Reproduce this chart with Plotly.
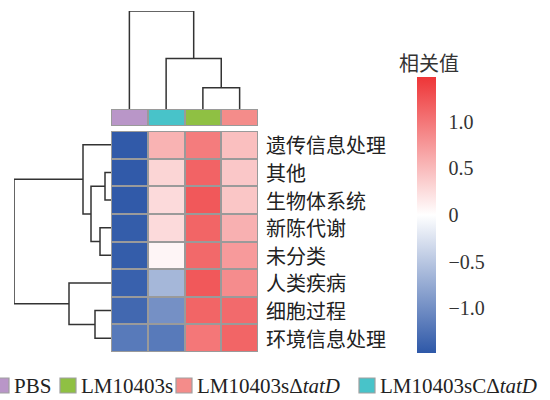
import plotly.graph_objects as go

# ---------------- data ----------------
rows = ["遗传信息处理", "其他", "生物体系统", "新陈代谢", "未分类", "人类疾病", "细胞过程", "环境信息处理"]
cols = ["PBS", "LM10403sCΔtatD", "LM10403s", "LM10403sΔtatD"]
col_colors = ["#B996C8", "#48C3C9", "#8FC043", "#F48C8A"]

pbs     = [-1.46, -1.46, -1.46, -1.44, -1.44, -1.40, -1.34, -1.18]
lm_c    = [0.56, 0.31, 0.27, 0.27, 0.07, -0.64, -0.98, -1.18]
lm      = [0.96, 1.14, 1.22, 1.13, 1.10, 1.22, 1.13, 1.00]
lm_del  = [0.47, 0.41, 0.42, 0.58, 0.74, 0.84, 1.09, 1.13]

# dendrograms (scipy-like linkage: child a, child b, height)
top_link = [[2, 3, 21], [1, 4, 50], [0, 5, 97]]
left_link = [[1, 2, 6], [3, 4, 11], [6, 7, 16], [8, 9, 20], [0, 11, 28], [5, 10, 42], [12, 13, 97]]

legend_labels = ["PBS", "LM10403s", "LM10403sΔ<i>tatD</i>", "LM10403sCΔ<i>tatD</i>"]
legend_colors = ["#B996C8", "#8FC043", "#F48C8A", "#48C3C9"]
legend_x = [-7, 60, 176, 359]  # pixel left edge of squares

cb_ticks = [-1.0, -0.5, 0, 0.5, 1.0]
cb_text = ["−1.0", "−0.5", "0", "0.5", "1.0"]

# ---------------- layout helpers ----------------
W, H = 550, 400
def px(x): return x / W
def py(y): return 1 - y / H

hx0, hx1 = 111, 258
hy0, hy1 = 131, 352

z = [[pbs[i], lm_c[i], lm[i], lm_del[i]] for i in range(len(rows))]

def dendro_segments(link, n):
    pos = {i: float(i) for i in range(n)}
    hgt = {i: 0.0 for i in range(n)}
    xs, ys = [], []
    for k, (a, b, h) in enumerate(link):
        xa, xb = pos[a], pos[b]
        xs += [xa, xa, xb, xb, None]
        ys += [hgt[a], h, h, hgt[b], None]
        pos[n + k] = (xa + xb) / 2
        hgt[n + k] = h
    return xs, ys

fig = go.Figure()

colorscale = [[0, "#2E58A8"], [0.5, "#FFFFFF"], [1, "#EE3537"]]
fig.add_trace(go.Heatmap(
    z=z, x=list(range(4)), y=list(range(len(rows))),
    zmin=-1.48, zmax=1.48, colorscale=colorscale, xgap=2, ygap=2,
    xaxis="x", yaxis="y", hoverinfo="skip",
    colorbar=dict(
        x=px(417), xanchor="left", xpad=0, ypad=0,
        y=py(215), yanchor="middle", len=276 / H, lenmode="fraction",
        thickness=19, outlinewidth=0,
        tickvals=cb_ticks, ticktext=cb_text, ticks="outside", ticklen=9,
        tickcolor="rgba(0,0,0,0)",
        tickfont=dict(family="Liberation Serif", size=20, color="#333"),
    ),
))

# annotation bar
n_cols = len(cols)
disc = []
for i, c in enumerate(col_colors):
    disc += [[i / n_cols, c], [(i + 1) / n_cols, c]]
fig.add_trace(go.Heatmap(
    z=[list(range(n_cols))], x=list(range(n_cols)), y=[0],
    zmin=-0.5, zmax=n_cols - 0.5, colorscale=disc, showscale=False,
    xgap=2, ygap=2, xaxis="x2", yaxis="y2", hoverinfo="skip",
))

# top dendrogram
tx, ty = dendro_segments(top_link, n_cols)
fig.add_trace(go.Scatter(x=tx, y=ty, mode="lines", line=dict(color="#333", width=1.5),
                         xaxis="x3", yaxis="y3", cliponaxis=False, hoverinfo="skip", showlegend=False))

# left dendrogram
ly, lx = dendro_segments(left_link, len(rows))
fig.add_trace(go.Scatter(x=lx, y=ly, mode="lines", line=dict(color="#333", width=1.5),
                         xaxis="x4", yaxis="y4", cliponaxis=False, hoverinfo="skip", showlegend=False))

ax_off = dict(visible=False, showgrid=False, zeroline=False, fixedrange=True)
nr = len(rows)
fig.update_layout(
    width=W, height=H, margin=dict(l=0, r=0, t=0, b=0),
    paper_bgcolor="white", plot_bgcolor="rgba(0,0,0,0)", showlegend=False,
    xaxis=dict(domain=[px(hx0), px(hx1)], range=[-0.5, n_cols - 0.5], **ax_off),
    yaxis=dict(domain=[py(hy1), py(hy0)], range=[nr - 0.5, -0.5], **ax_off),
    xaxis2=dict(domain=[px(hx0), px(hx1)], range=[-0.5, n_cols - 0.5], anchor="y2", **ax_off),
    yaxis2=dict(domain=[py(126), py(109)], range=[-0.5, 0.5], anchor="x2", **ax_off),
    xaxis3=dict(domain=[px(hx0), px(hx1)], range=[-0.5, n_cols - 0.5], anchor="y3", **ax_off),
    yaxis3=dict(domain=[py(109), py(11)], range=[0, 97], anchor="x3", **ax_off),
    xaxis4=dict(domain=[px(14), px(hx0)], range=[97, 0], anchor="y4", **ax_off),
    yaxis4=dict(domain=[py(hy1), py(hy0)], range=[nr - 0.5, -0.5], anchor="x4", **ax_off),
)

shapes = [
    dict(type="rect", xref="x", yref="y", x0=-0.5, x1=n_cols - 0.5, y0=-0.5, y1=nr - 0.5,
         fillcolor="#9A9A9A", line=dict(width=0), layer="below"),
    dict(type="rect", xref="x2", yref="y2", x0=-0.5, x1=n_cols - 0.5, y0=-0.5, y1=0.5,
         fillcolor="#9A9A9A", line=dict(width=0), layer="below"),
]
annotations = []
for i, r in enumerate(rows):
    annotations.append(dict(x=n_cols - 0.5, y=i, xref="x", yref="y", text=r, showarrow=False,
                            xanchor="left", yanchor="middle", xshift=6,
                            font=dict(family="Noto Sans CJK SC", size=20, color="#222")))
annotations.append(dict(x=px(429), y=py(62), xref="paper", yref="paper", text="相关值", showarrow=False,
                        xanchor="center", yanchor="middle",
                        font=dict(family="Noto Sans CJK SC", size=20, color="#333")))

for lab, col, x0 in zip(legend_labels, legend_colors, legend_x):
    shapes.append(dict(type="rect", xref="paper", yref="paper", x0=px(x0), x1=px(x0 + 16),
                       y0=py(393), y1=py(378), fillcolor=col, line=dict(color="#A0A0A0", width=1.2)))
    annotations.append(dict(x=px(x0 + 19), y=py(385.5), xref="paper", yref="paper", text=lab,
                            showarrow=False, xanchor="left", yanchor="middle",
                            font=dict(family="Liberation Serif", size=21, color="#222")))

fig.update_layout(shapes=shapes, annotations=annotations)
fig.write_html("out.html", config={"displayModeBar": False},
               post_script="document.body.style.margin='0';")
